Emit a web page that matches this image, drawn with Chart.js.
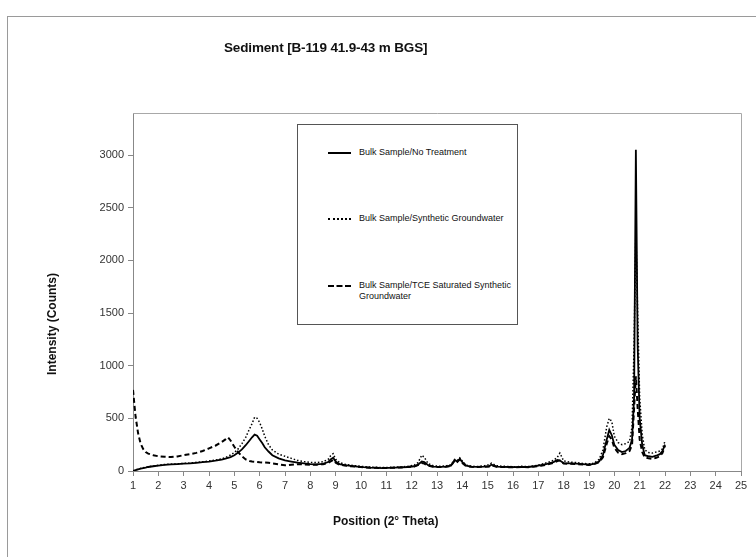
<!DOCTYPE html>
<html>
<head>
<meta charset="utf-8">
<script src="https://cdn.jsdelivr.net/npm/chart.js@4.4.0/dist/chart.umd.min.js"></script>
<style>
  html,body{margin:0;padding:0;background:#fff;}
  #wrap{position:relative;width:756px;height:557px;overflow:hidden;font-family:"Liberation Sans",Arial,sans-serif;}
  #frame{position:absolute;left:7px;top:16px;width:800px;height:600px;border-top:1px solid #9a9a9a;border-left:1px solid #9a9a9a;}
  canvas{position:absolute;left:0;top:0;}
  .t{position:absolute;color:#111;white-space:nowrap;}
  #title{left:224px;top:40px;font-size:13.5px;font-weight:bold;letter-spacing:-0.15px;}
  #xtitle{left:333px;top:514px;font-size:12px;font-weight:bold;}
  #ytitle{left:52px;top:324px;font-size:12px;font-weight:bold;transform:translate(-50%,-50%) rotate(-90deg);}
  #legend{position:absolute;left:297px;top:124px;width:219px;height:199px;border:1px solid #555;background:#fff;}
  .li{position:absolute;left:0;width:219px;font-size:9px;color:#111;}
  .ls{position:absolute;left:30px;width:23px;height:0;border-top-color:#000;}
  .lt{position:absolute;left:61px;line-height:11px;}
</style>
</head>
<body>
<div id="wrap">
  <div id="frame"></div>
  <canvas id="c" width="756" height="557"></canvas>
  <div class="t" id="title">Sediment [B-119 41.9-43 m BGS]</div>
  <div class="t" id="xtitle">Position (2° Theta)</div>
  <div class="t" id="ytitle">Intensity (Counts)</div>
  <div id="legend"></div>
</div>
<script>
// ---- data ----
const seriesNames = [
  "Bulk Sample/No Treatment",
  "Bulk Sample/Synthetic Groundwater",
  "Bulk Sample/TCE Saturated Synthetic Groundwater"
];
const positions = [
  1.0,1.1,1.2,1.3,1.4,1.5,1.6,1.8,2.0,2.25,
  2.5,2.75,3.0,3.25,3.5,3.75,4.0,4.25,4.5,4.65,
  4.75,4.85,5.0,5.15,5.3,5.45,5.6,5.7,5.8,5.9,
  6.0,6.1,6.2,6.35,6.5,6.75,7.0,7.25,7.5,7.75,
  8.0,8.25,8.5,8.7,8.8,8.9,9.0,9.15,9.35,9.6,
  9.85,10.1,10.35,10.6,10.85,11.1,11.35,11.6,11.85,12.1,
  12.25,12.4,12.5,12.65,12.85,13.1,13.35,13.55,13.7,13.8,
  13.9,14.0,14.15,14.35,14.6,14.85,15.05,15.15,15.35,15.6,
  15.85,16.1,16.35,16.6,16.85,17.1,17.35,17.6,17.75,17.85,
  18.0,18.25,18.5,18.75,19.0,19.2,19.4,19.55,19.7,19.8,
  19.9,20.0,20.15,20.3,20.45,20.6,20.7,20.78,20.85,20.92,
  21.0,21.1,21.2,21.35,21.5,21.65,21.8,21.9,22.0
];
const noTreatment = [
  0,8,15,22,28,32,38,45,52,58,
  62,66,70,72,78,84,90,98,108,118,
  125,132,150,175,205,245,290,320,345,335,
  300,265,225,185,150,120,100,90,80,72,
  65,62,68,85,110,125,90,65,55,48,
  42,36,32,30,28,30,32,35,38,45,
  60,90,85,55,42,40,42,50,105,90,
  115,85,50,42,40,42,45,60,42,40,
  38,36,40,38,45,55,68,85,105,100,
  75,72,70,65,60,68,90,150,300,390,
  340,250,200,180,190,220,300,700,3050,1200,
  500,250,150,140,135,145,160,190,250
];
const syntheticGW = [
  0,10,18,25,30,35,40,48,55,62,
  65,68,72,76,82,88,95,103,115,128,
  140,152,175,210,260,320,400,450,510,500,
  460,400,330,250,200,160,140,120,100,90,
  82,80,88,110,145,165,110,80,65,55,
  48,42,38,35,33,34,36,40,44,55,
  80,150,130,70,50,45,48,60,110,100,
  125,95,55,45,43,48,60,75,50,45,
  42,40,45,42,50,62,80,100,130,170,
  95,85,80,72,68,75,110,200,420,500,
  470,330,270,250,260,280,420,1200,2300,1500,
  700,350,200,175,170,180,190,210,285
];
const tceSyntheticGW = [
  770,520,360,260,210,180,165,150,140,135,
  132,138,150,160,172,190,215,240,275,300,
  320,290,230,180,140,110,95,90,88,85,
  82,80,80,78,72,62,55,60,65,62,
  58,60,65,75,90,105,80,60,52,45,
  40,35,32,30,28,30,32,34,38,42,
  55,75,70,50,40,38,40,48,100,85,
  110,75,45,40,38,40,42,55,40,38,
  36,35,38,36,42,50,62,78,95,100,
  70,68,65,62,58,65,85,130,260,330,
  300,220,175,160,170,190,250,600,900,600,
  300,180,130,120,115,125,140,170,240
];
const yTickValues = [0,500,1000,1500,2000,2500,3000];
const xTickValues = [1,2,3,4,5,6,7,8,9,10,11,12,13,14,15,16,17,18,19,20,21,22,23,24,25];

// ---- styles ----
const styles = [
  {dash: [], width: 1.8, css: "2px solid"},
  {dash: [1.5, 2], width: 1.5, css: "2px dotted"},
  {dash: [5, 3], width: 2, css: "2px dashed"}
];
const seriesValues = [noTreatment, syntheticGW, tceSyntheticGW];

const datasets = seriesValues.map((vals, i) => ({
  label: seriesNames[i],
  data: positions.map((x, k) => ({x: x, y: vals[k]})),
  borderColor: "#000",
  borderWidth: styles[i].width,
  borderDash: styles[i].dash,
  pointRadius: 0,
  tension: 0,
  fill: false
})).reverse();

// legend (HTML)
const legend = document.getElementById("legend");
const legY = [28, 94, 161];
seriesNames.forEach((name, i) => {
  const item = document.createElement("div");
  item.className = "li";
  item.style.top = legY[i] + "px";
  const sw = document.createElement("div");
  sw.className = "ls";
  sw.style.borderTop = styles[i].css + " #000";
  sw.style.top = "-1px";
  const tx = document.createElement("div");
  tx.className = "lt";
  tx.style.top = "-6px";
  if (i === 2) {
    tx.innerHTML = "Bulk Sample/TCE Saturated Synthetic<br>Groundwater";
  } else {
    tx.textContent = name;
  }
  item.appendChild(sw);
  item.appendChild(tx);
  legend.appendChild(item);
});

const frameBox = {
  id: "frameBox",
  afterDraw(chart) {
    const a = chart.chartArea, ctx = chart.ctx;
    ctx.save();
    ctx.strokeStyle = "#a8a8a8";
    ctx.lineWidth = 1;
    ctx.beginPath();
    ctx.moveTo(a.left, a.top + 0.5);
    ctx.lineTo(a.right + 0.5, a.top + 0.5);
    ctx.lineTo(a.right + 0.5, a.bottom);
    ctx.stroke();
    ctx.restore();
  }
};

new Chart(document.getElementById("c"), {
  type: "line",
  data: {datasets},
  options: {
    responsive: false,
    animation: false,
    layout: {padding: {top: 113, right: 15, left: 0, bottom: 0}},
    plugins: {legend: {display: false}, title: {display: false}, tooltip: {enabled: false}},
    scales: {
      x: {
        type: "linear",
        min: 1, max: 25,
        afterFit(s) { s.height = 86; },
        afterBuildTicks(s) { s.ticks = xTickValues.map(v => ({value: v})); },
        ticks: {stepSize: 1, color: "#333", font: {family: "Liberation Sans", size: 11}, padding: 3, maxRotation: 0, autoSkip: false,
                callback: v => String(v)},
        grid: {display: true, drawOnChartArea: false, tickLength: 5, color: "#888"},
        border: {color: "#888", width: 1}
      },
      y: {
        type: "linear",
        min: 0, max: 3400,
        afterFit(s) { s.width = 133; },
        afterBuildTicks(s) { s.ticks = yTickValues.map(v => ({value: v})); },
        ticks: {stepSize: 500, color: "#333", font: {family: "Liberation Sans", size: 11}, padding: 4,
                callback: v => String(v)},
        grid: {display: true, drawOnChartArea: false, tickLength: 5, color: "#888"},
        border: {color: "#888", width: 1}
      }
    }
  },
  plugins: [frameBox]
});
</script>
</body>
</html>
